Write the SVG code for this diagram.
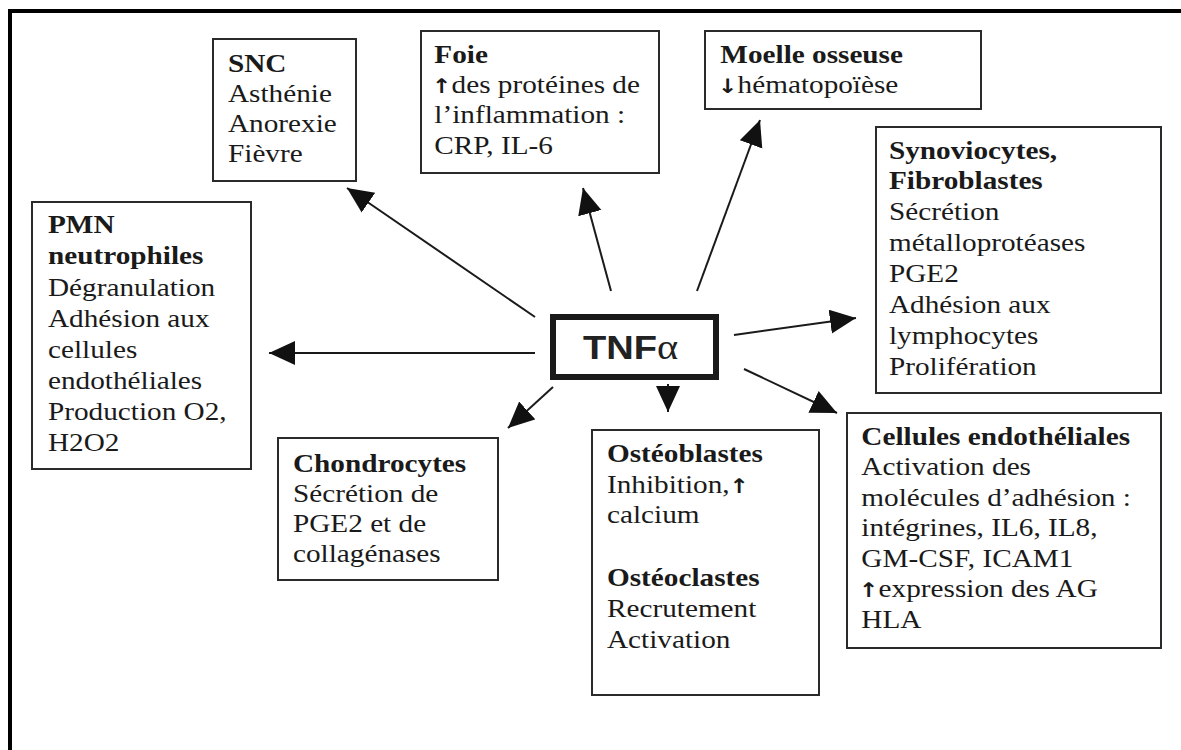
<svg xmlns="http://www.w3.org/2000/svg" width="1181" height="750" viewBox="0 0 1181 750">
<defs>
<style>
.box{fill:#fff;stroke:#2a2a2a;stroke-width:2}
.t{font-family:"Liberation Serif","Times New Roman",serif;font-size:25px;fill:#1a1a1a}
.b{font-weight:bold}
.ar{font-family:"DejaVu Sans",sans-serif;font-weight:bold;font-size:20px}
.con{stroke:#1a1a1a;stroke-width:2;fill:none}
</style>
<marker id="ah" markerUnits="userSpaceOnUse" markerWidth="28" markerHeight="26" refX="26" refY="12" orient="auto">
<path d="M0,0 L26,12 L0,24 z" fill="#111"/>
</marker>
</defs>
<rect x="0" y="0" width="1181" height="750" fill="#fff"/>
<rect x="10" y="11" width="1190" height="800" fill="none" stroke="#000" stroke-width="4"/>

<g id="connectors">
<line class="con" x1="535" y1="317" x2="347" y2="188" marker-end="url(#ah)"/>
<line class="con" x1="611" y1="291" x2="583" y2="188" marker-end="url(#ah)"/>
<line class="con" x1="697" y1="291" x2="760" y2="120" marker-end="url(#ah)"/>
<line class="con" x1="734" y1="335" x2="856" y2="318" marker-end="url(#ah)"/>
<line class="con" x1="744" y1="369" x2="837" y2="413" marker-end="url(#ah)"/>
<line class="con" x1="668" y1="384" x2="668" y2="412" marker-end="url(#ah)"/>
<line class="con" x1="553" y1="387" x2="508" y2="428" marker-end="url(#ah)"/>
<line class="con" x1="535" y1="353" x2="269" y2="353" stroke-width="3.5" marker-end="url(#ah)"/>
</g>

<g id="tnf">
<rect x="553" y="317" width="163" height="60" fill="#fff" stroke="#1a1a1a" stroke-width="6"/>
<text transform="translate(583 0) scale(1.12 1)" y="359" style="font-family:'Liberation Sans',Arial,sans-serif;font-size:34px;font-weight:bold;fill:#222"><tspan x="0">TNF</tspan><tspan style="font-family:'Liberation Serif',serif;font-weight:normal;font-size:36px">α</tspan></text>
</g>

<g id="snc">
<rect class="box" x="213" y="39" width="143" height="142"/>
<text class="t" transform="translate(228 0) scale(1.17 1)"><tspan class="b" x="0" y="72">SNC</tspan><tspan x="0" y="102">Asthénie</tspan><tspan x="0" y="132">Anorexie</tspan><tspan x="0" y="162">Fièvre</tspan></text>
</g>

<g id="foie">
<rect class="box" x="421" y="31" width="238" height="142"/>
<text class="t" transform="translate(432 0) scale(1.17 1)"><tspan class="b" x="2" y="63">Foie</tspan><tspan x="0" y="93"><tspan class="ar">↑</tspan>des protéines de</tspan><tspan x="2" y="123">l’inflammation :</tspan><tspan x="2" y="154">CRP, IL-6</tspan></text>
</g>

<g id="moelle">
<rect class="box" x="705" y="31" width="276" height="78"/>
<text class="t" transform="translate(718 0) scale(1.17 1)"><tspan class="b" x="2" y="63">Moelle osseuse</tspan><tspan x="0" y="93"><tspan class="ar">↓</tspan>hématopoïèse</tspan></text>
</g>

<g id="synoviocytes">
<rect class="box" x="876" y="127" width="285" height="266"/>
<text class="t" transform="translate(889 0) scale(1.17 1)"><tspan class="b" x="0" y="159">Synoviocytes,</tspan><tspan class="b" x="0" y="189">Fibroblastes</tspan><tspan x="0" y="220">Sécrétion</tspan><tspan x="0" y="251">métalloprotéases</tspan><tspan x="0" y="282">PGE2</tspan><tspan x="0" y="313">Adhésion aux</tspan><tspan x="0" y="344">lymphocytes</tspan><tspan x="0" y="375">Prolifération</tspan></text>
</g>

<g id="pmn">
<rect class="box" x="32" y="202" width="219" height="267"/>
<text class="t" transform="translate(48 0) scale(1.17 1)"><tspan class="b" x="0" y="233">PMN</tspan><tspan class="b" x="0" y="264">neutrophiles</tspan><tspan x="0" y="296">Dégranulation</tspan><tspan x="0" y="327">Adhésion aux</tspan><tspan x="0" y="358">cellules</tspan><tspan x="0" y="389">endothéliales</tspan><tspan x="0" y="420">Production O2,</tspan><tspan x="0" y="451">H2O2</tspan></text>
</g>

<g id="chondrocytes">
<rect class="box" x="278" y="438" width="220" height="142"/>
<text class="t" transform="translate(293 0) scale(1.17 1)"><tspan class="b" x="0" y="472">Chondrocytes</tspan><tspan x="0" y="502">Sécrétion de</tspan><tspan x="0" y="532">PGE2 et de</tspan><tspan x="0" y="562">collagénases</tspan></text>
</g>

<g id="osteo">
<rect class="box" x="592" y="430" width="227" height="265"/>
<text class="t" transform="translate(607 0) scale(1.17 1)"><tspan class="b" x="0" y="462">Ostéoblastes</tspan><tspan x="0" y="493">Inhibition,<tspan class="ar">↑</tspan></tspan><tspan x="0" y="523">calcium</tspan><tspan class="b" x="0" y="586">Ostéoclastes</tspan><tspan x="0" y="617">Recrutement</tspan><tspan x="0" y="648">Activation</tspan></text>
</g>

<g id="endothelial">
<rect class="box" x="847" y="413" width="314" height="235"/>
<text class="t" transform="translate(859 0) scale(1.17 1)"><tspan class="b" x="2" y="445">Cellules endothéliales</tspan><tspan x="2" y="475">Activation des</tspan><tspan x="2" y="506">molécules d’adhésion :</tspan><tspan x="2" y="536">intégrines, IL6, IL8,</tspan><tspan x="2" y="567">GM-CSF, ICAM1</tspan><tspan x="0" y="597"><tspan class="ar">↑</tspan>expression des AG</tspan><tspan x="2" y="628">HLA</tspan></text>
</g>
</svg>
